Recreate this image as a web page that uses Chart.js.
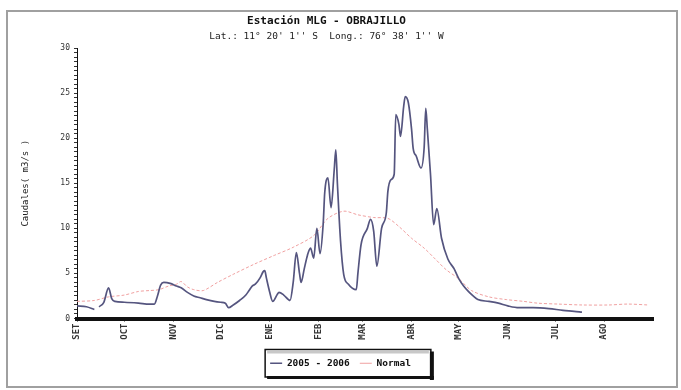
<!DOCTYPE html>
<html><head><meta charset="utf-8">
<script src="https://cdn.jsdelivr.net/npm/chart.js@4.4.0/dist/chart.umd.min.js"></script>
<style>html,body{margin:0;padding:0;background:#fff}#wrap{width:681px;height:390px;position:relative}</style>
</head><body><div id="wrap"><canvas id="c" width="681" height="390"></canvas></div>
<script>
const titleText = 'Estación MLG - OBRAJILLO';
const subtitleText = "Lat.: 11° 20' 1'' S  Long.: 76° 38' 1'' W";
const yAxisTitle = 'Caudales( m3/s )';
const monthLabels = ['SET','OCT','NOV','DIC','ENE','FEB','MAR','ABR','MAY','JUN','JUL','AGO'];
const monthStartDays = [0,30,61,91,122,153,181,212,242,273,303,334];
const yTickLabels = [0,5,10,15,20,25,30];
const seriesName = '2005 - 2006';
const normalName = 'Normal';
// day index counted from 1 September 2005
const seriesDays = [0,6,11,12,14,17,20,22,24,30,39,46,49,51,53,55,59,63,66,70,74,78,82,87,91,94,96,99,103,107,109,111,113,116,118,119,120,122,124,127,128,131,134,135,137,139,141,142,144,146,148,150,152,154,156,157,159,161,163,164,165,167,169,172,177,178,180,184,186,188,190,193,196,197,199,201,202,204,205,207,208,210,212,213,215,218,220,221,222,224,226,228,231,235,239,242,245,248,251,254,261,267,273,280,289,299,308,315,320];
const seriesValues = [1.4,1.3,1.0,null,1.3,1.8,3.4,2.2,1.9,1.8,1.7,1.6,1.6,2.5,3.7,4.0,3.9,3.6,3.4,2.9,2.5,2.3,2.1,1.9,1.8,1.7,1.2,1.5,2.0,2.6,3.1,3.6,3.8,4.5,5.2,5.3,4.5,3.0,1.9,2.7,2.9,2.6,2.1,2.0,4.0,7.3,5.0,4.0,5.5,7.0,7.8,6.7,10.0,7.2,10.5,14.0,15.6,12.3,16.5,18.7,15.0,8.6,4.9,3.8,3.2,5.0,8.2,10.0,11.0,9.7,5.8,10.0,11.7,14.1,15.4,16.0,22.6,21.5,20.2,23.5,24.6,23.9,21.0,18.9,18.0,16.7,19.0,23.3,21.0,16.0,10.4,12.2,8.9,6.6,5.5,4.4,3.6,3.0,2.5,2.1,1.9,1.7,1.4,1.2,1.2,1.1,0.9,0.8,0.7];
const normalDays = [0,11,20,30,39,46,52,58,63,66,70,74,80,89,99,112,125,137,150,159,169,178,188,197,204,212,220,227,234,242,250,261,272,283,292,305,320,337,349,362];
const normalValues = [1.9,2.0,2.4,2.6,3.0,3.1,3.2,3.6,3.8,4.1,3.5,3.2,3.1,4.0,4.9,6.0,7.0,7.9,9.2,11.1,11.9,11.5,11.2,11.1,10.2,8.9,7.8,6.6,5.4,4.4,3.1,2.4,2.1,1.9,1.7,1.6,1.5,1.5,1.6,1.5];

const MONO = "'DejaVu Sans Mono', monospace";
const toPts = (xs, ys) => xs.map((x, i) => ({x: x, y: ys[i]}));

const framePlugin = {
  id: 'frame',
  beforeDraw(chart) {
    const ctx = chart.ctx;
    ctx.save();
    ctx.fillStyle = '#fff';
    ctx.fillRect(0, 0, chart.width, chart.height);
    ctx.strokeStyle = '#a0a0a0';
    ctx.lineWidth = 2;
    ctx.strokeRect(7, 11, 670, 376);
    ctx.restore();
  }
};

const legendShift = {
  id: 'legendShift',
  afterLayout(chart) {
    const lg = chart.legend;
    if (lg) { lg.left += 14; lg.right += 14; }
  }
};

const legendBox = {
  id: 'legendBox',
  afterDraw(chart) {
    const lg = chart.legend;
    if (!lg || !lg.legendHitBoxes || !lg.legendHitBoxes.length) return;
    const hb = lg.legendHitBoxes;
    let l = Infinity, r = -Infinity, t = Infinity, b = -Infinity;
    hb.forEach(h => { l = Math.min(l, h.left); r = Math.max(r, h.left + h.width); t = Math.min(t, h.top); b = Math.max(b, h.top + h.height); });
    const x0 = l - 5, x1 = r + 20, y0 = t - 9, y1 = b + 9;
    const ctx = chart.ctx;
    ctx.save();
    ctx.strokeStyle = '#111';
    ctx.lineWidth = 1.5;
    ctx.strokeRect(x0, y0, x1 - x0, y1 - y0);
    ctx.fillStyle = '#c8c8c8';
    ctx.fillRect(x0 + 2, y0 + 1, x1 - x0 - 4, 3);
    ctx.fillStyle = '#111';
    ctx.fillRect(x1 - 1, y0 + 2, 4, y1 - y0 + 1);
    ctx.fillRect(x0 + 2, y1 - 1, x1 - x0 + 1, 3);
    ctx.restore();
  }
};

new Chart(document.getElementById('c'), {
  type: 'line',
  data: {
    datasets: [
      {
        label: seriesName,
        data: toPts(seriesDays, seriesValues),
        borderColor: '#55557f',
        borderWidth: 1.7,
        pointRadius: 0,
        tension: 0.3,
        cubicInterpolationMode: 'monotone',
        spanGaps: false,
        fill: false
      },
      {
        label: normalName,
        data: toPts(normalDays, normalValues),
        borderColor: '#f0a0a0',
        borderWidth: 1,
        borderDash: [3, 2],
        pointRadius: 0,
        tension: 0.3,
        fill: false
      }
    ]
  },
  options: {
    responsive: false,
    devicePixelRatio: 1,
    animation: false,
    layout: { padding: { left: 0, right: 28, top: 0, bottom: 12 } },
    plugins: {
      title: {
        display: true, text: titleText, color: '#111',
        font: { family: MONO, size: 11, weight: 'bold' },
        padding: { top: 15, bottom: 2 }
      },
      subtitle: {
        display: true, text: subtitleText, color: '#222',
        font: { family: MONO, size: 9.5 },
        padding: { top: 1, bottom: 5.4 }
      },
      legend: {
        position: 'bottom',
        labels: {
          usePointStyle: true, pointStyle: 'line', pointStyleWidth: 12, boxHeight: 9,
          color: '#111', padding: 10,
          font: { family: MONO, size: 9.5, weight: 'bold' }
        }
      },
      tooltip: { enabled: false }
    },
    scales: {
      x: {
        type: 'linear', min: 0, max: 365,
        afterBuildTicks: s => { s.ticks = monthStartDays.map(v => ({ value: v })); },
        afterFit: s => { s.height = 30; },
        ticks: {
          autoSkip: false, minRotation: 90, maxRotation: 90, padding: 2,
          color: '#333', font: { family: MONO, size: 9, weight: 'bold' },
          callback: (v, i) => monthLabels[i]
        },
        grid: { display: true, drawOnChartArea: false, tickLength: 3, color: '#222' },
        border: { display: true, color: '#111', width: 4 }
      },
      y: {
        type: 'linear', min: 0, max: 30,
        afterFit: s => { s.width = 77; },
        ticks: {
          stepSize: 0.5, autoSkip: false, maxTicksLimit: 100, padding: 4,
          color: '#333', font: { family: MONO, size: 8 },
          callback: v => yTickLabels.includes(v) ? String(v) : ''
        },
        grid: { display: true, drawOnChartArea: false, tickLength: 3, color: '#333' },
        border: { display: true, color: '#111', width: 1 },
        title: {
          display: true, text: yAxisTitle, color: '#222',
          font: { family: MONO, size: 9 },
          padding: { top: 20, bottom: 0 }
        }
      }
    }
  },
  plugins: [framePlugin, legendShift, legendBox]
});
</script>
</body></html>
